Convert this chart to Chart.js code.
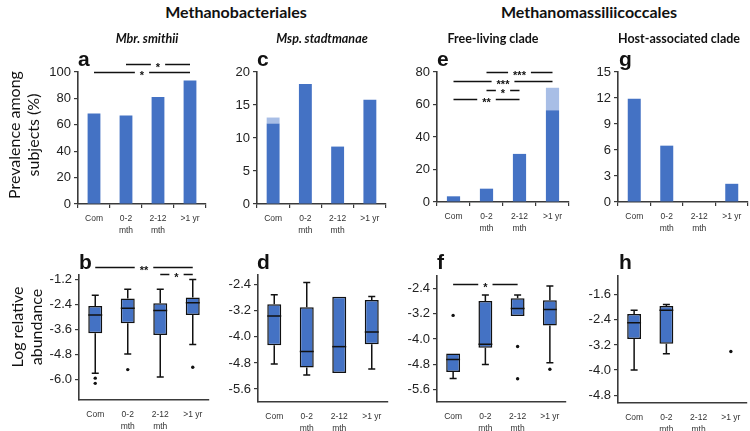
<!DOCTYPE html>
<html>
<head>
<meta charset="utf-8">
<script src="https://cdn.jsdelivr.net/npm/chart.js@4.4.1/dist/chart.umd.min.js"></script>
<style>
  html, body { margin: 0; padding: 0; background: #fff; }
  #fig { position: relative; width: 750px; height: 431px; overflow: hidden; font-family: Lato, "Open Sans", sans-serif; color: #111; }
  #fig canvas { position: absolute; }
  .t { position: absolute; white-space: nowrap; transform: translate(-50%, -50%); z-index: 2; }
  .head { font-weight: bold; font-size: 16px; }
  .sub { font-weight: bold; font-size: 12.5px; }
  .it { font-style: italic; }
  .tag { position: absolute; z-index: 2; font-family: "Liberation Sans", Arial, sans-serif; font-weight: bold; font-size: 21px; line-height: 21px; }
  .ytitle { font-size: 16px; line-height: 19px; text-align: center; transform: translate(-50%, -50%) rotate(-90deg); }
</style>
</head>
<body>
<div id="fig">
  <div class="t head" style="left:236px;top:11px">Methanobacteriales</div>
  <div class="t head" style="left:589px;top:11px">Methanomassiliicoccales</div>
  <div class="t sub it" style="left:147px;top:38px">Mbr. smithii</div>
  <div class="t sub it" style="left:322px;top:38px">Msp. stadtmanae</div>
  <div class="t sub" style="left:493px;top:38px">Free-living clade</div>
  <div class="t sub" style="left:679px;top:38px">Host-associated clade</div>
  <div class="tag" style="left:78px;top:48px">a</div>
  <div class="tag" style="left:257px;top:48px">c</div>
  <div class="tag" style="left:437px;top:48px">e</div>
  <div class="tag" style="left:619px;top:48px">g</div>
  <div class="tag" style="left:79px;top:251px">b</div>
  <div class="tag" style="left:257px;top:251px">d</div>
  <div class="tag" style="left:437px;top:251px">f</div>
  <div class="tag" style="left:619px;top:251px">h</div>
  <div class="t ytitle" style="left:23px;top:135px">Prevalence among<br>subjects (%)</div>
  <div class="t ytitle" style="left:26px;top:327px">Log relative<br>abundance</div>
</div>
<script>
// age groups on every x axis; second line of the tick label below
const groups = ['Com', '0-2', '2-12', '>1 yr'];
const groupSub = ['', 'mth', 'mth', ''];

// prevalence among subjects (%): solid part and lighter top part
const smithiiPrev = [68.5, 67, 81, 93.5];
const stadtmanaePrev = [12.2, 18.2, 8.7, 15.8];
const stadtmanaeExtra = [0.9, 0, 0, 0];
const freePrev = [3.5, 8.2, 29.6, 56.5];
const freeExtra = [0, 0, 0, 13.8];
const hostPrev = [11.9, 6.5, 0, 2.1];

const prevTicksA = [0, 20, 40, 60, 80, 100];
const prevTicksC = [0, 5, 10, 15, 20];
const prevTicksE = [0, 20, 40, 60, 80];
const prevTicksG = [0, 3, 6, 9, 12, 15];

// log relative abundance, one row per group: [min, q1, median, q3, max]
const smithiiBox = [
  [-5.71, -3.80, -2.92, -2.49, -1.97],
  [-4.79, -3.31, -2.60, -2.13, -1.68],
  [-5.89, -3.88, -2.70, -2.36, -1.68],
  [-4.33, -2.92, -2.33, -2.08, -1.22],
];
const smithiiOut = [[-5.95, -6.2], [-5.54], [], [-5.43]];
const stadtmanaeBox = [
  [-4.83, -4.26, -3.36, -3.00, -2.71],
  [-5.17, -4.94, -4.45, -3.09, -2.33],
  [-5.11, -5.11, -4.30, -2.77, -2.77],
  [-4.99, -4.23, -3.85, -2.87, -2.76],
];
const stadtmanaeOut = [[], [], [], []];
const freeBox = [
  [-5.25, -5.05, -4.65, -4.46, -4.46],
  [-4.81, -4.28, -4.17, -2.79, -2.60],
  [-3.27, -3.27, -3.03, -2.71, -2.60],
  [-4.75, -3.57, -3.06, -2.77, -2.32],
];
const freeOut = [[-3.25], [], [-4.24, -5.26], [-4.96]];
const hostBox = [
  [-4.00, -3.01, -2.49, -2.21, -2.09],
  [-3.48, -3.16, -2.09, -1.96, -1.91],
  null,
  null,
];
const hostOut = [[], [], [], [-3.41]];

const logTicksB = [-6.0, -4.8, -3.6, -2.4, -1.2];
const logTicksD = [-5.6, -4.8, -4.0, -3.2, -2.4];
const logTicksF = [-5.6, -4.8, -4.0, -3.2, -2.4];
const logTicksH = [-4.8, -4.0, -3.2, -2.4, -1.6];

// significance brackets: [from group, to group, height in axis units, stars]
const sigA = [[0, 3, 100, '*'], [1, 3, 106, '*']];
const sigB = [[0, 3, -0.62, '**'], [2, 3, -0.95, '*']];
const sigE = [[1, 3, 80, '***'], [0, 3, 74.5, '***'], [1, 2, 69, '*'], [0, 2, 63.5, '**']];
const sigF = [[0, 2, -2.24, '*']];

const BLUE = '#4472c4';
const LIGHT = '#a8bee6';
const AXIS = '#3a3a3a';
const Y_W = 40, X_H = 30, PAD_TOP = 30;

const boxPlot = {
  id: 'boxPlot',
  afterDatasetsDraw(chart, args, opts) {
    const stats = opts.stats;
    if (!stats) return;
    const { ctx } = chart;
    const y = chart.scales.y;
    const bars = chart.getDatasetMeta(0).data;
    ctx.save();
    ctx.strokeStyle = '#111';
    ctx.lineWidth = 1.5;
    stats.forEach((s, i) => {
      if (!s || !bars[i]) return;
      const [lo, q1, med, q3, hi] = s;
      const cx = bars[i].x, half = bars[i].width / 2, cap = 3.5;
      const py = (v) => y.getPixelForValue(v);
      ctx.beginPath();
      if (hi > q3) { ctx.moveTo(cx, py(q3)); ctx.lineTo(cx, py(hi)); ctx.moveTo(cx - cap, py(hi)); ctx.lineTo(cx + cap, py(hi)); }
      if (lo < q1) { ctx.moveTo(cx, py(q1)); ctx.lineTo(cx, py(lo)); ctx.moveTo(cx - cap, py(lo)); ctx.lineTo(cx + cap, py(lo)); }
      ctx.moveTo(cx - half, py(med)); ctx.lineTo(cx + half, py(med));
      ctx.stroke();
    });
    ctx.restore();
  },
};

const brackets = {
  id: 'brackets',
  afterDraw(chart, args, opts) {
    const rows = opts.rows || [];
    const { ctx } = chart;
    const { x, y } = chart.scales;
    ctx.save();
    ctx.strokeStyle = '#111';
    ctx.fillStyle = '#111';
    ctx.lineWidth = 1.3;
    ctx.font = 'bold 11px "Liberation Sans", Arial, sans-serif';
    ctx.textAlign = 'center';
    ctx.textBaseline = 'middle';
    rows.forEach(([from, to, level, stars]) => {
      const x0 = x.getPixelForValue(from), x1 = x.getPixelForValue(to);
      const py = Math.round(y.getPixelForValue(level)) + 0.5;
      const mid = (x0 + x1) / 2, gap = ctx.measureText(stars).width / 2 + 5;
      ctx.beginPath();
      ctx.moveTo(x0, py); ctx.lineTo(mid - gap, py);
      ctx.moveTo(mid + gap, py); ctx.lineTo(x1, py);
      ctx.stroke();
      ctx.fillText(stars, mid, py + 3);
    });
    ctx.restore();
  },
};

function scales(range, ticks, digits, xTicks, stacked) {
  return {
    x: {
      stacked,
      grid: { display: true, drawOnChartArea: false, drawTicks: xTicks, tickLength: 4, color: AXIS, lineWidth: 1.2, offset: true },
      border: { color: AXIS, width: 1.6 },
      ticks: {
        color: '#333', font: { size: 8.5, lineHeight: 1.5 }, padding: xTicks ? 4 : 8, maxRotation: 0, autoSkip: false,
        callback: (v, i) => (groupSub[i] ? [groups[i], groupSub[i]] : groups[i]),
      },
      afterFit: (axis) => { axis.height = X_H; },
    },
    y: {
      stacked,
      min: range[0], max: range[1],
      grid: { drawOnChartArea: false, tickLength: 4, color: AXIS, lineWidth: 1.2 },
      border: { color: AXIS, width: 1.6 },
      ticks: { color: '#222', font: { size: 13 }, padding: 3, callback: (v) => Number(v).toFixed(digits) },
      afterBuildTicks: (axis) => { axis.ticks = ticks.map((value) => ({ value })); },
      afterFit: (axis) => { axis.width = Y_W; },
    },
  };
}

function mount(rect, config) {
  const [left, top, right, bottom] = rect;
  const canvas = document.createElement('canvas');
  const w = right + 2 - (left - Y_W), h = bottom - top + PAD_TOP + X_H;
  canvas.width = w; canvas.height = h;
  canvas.style.left = (left - Y_W) + 'px';
  canvas.style.top = (top - PAD_TOP) + 'px';
  canvas.style.width = w + 'px';
  canvas.style.height = h + 'px';
  document.getElementById('fig').appendChild(canvas);
  config.options.responsive = false;
  config.options.animation = false;
  config.options.devicePixelRatio = 1;
  config.options.layout = { padding: { left: 0, top: PAD_TOP, right: 2, bottom: 0 } };
  config.options.plugins = Object.assign({ legend: { display: false }, tooltip: { enabled: false } }, config.options.plugins);
  return new Chart(canvas, config);
}

function prevalence(rect, values, extra, range, ticks, sig) {
  const datasets = [{ data: values, backgroundColor: BLUE, barPercentage: 0.4, categoryPercentage: 1 }];
  if (extra) datasets.push({ data: extra, backgroundColor: LIGHT, barPercentage: 0.4, categoryPercentage: 1 });
  mount(rect, {
    type: 'bar',
    data: { labels: groups, datasets },
    options: { scales: scales(range, ticks, 0, true, true), plugins: { brackets: { rows: sig || [] } } },
    plugins: [brackets],
  });
}

function abundance(rect, stats, outliers, range, ticks, sig) {
  const datasets = [{
    type: 'bar',
    data: stats.map((s) => (s ? [s[1], s[3]] : null)),
    backgroundColor: BLUE, borderColor: '#111', borderWidth: 1.5, borderSkipped: false,
    barPercentage: 0.43, categoryPercentage: 1,
  }];
  const depth = Math.max(...outliers.map((o) => o.length));
  for (let k = 0; k < depth; k++) {
    datasets.push({
      type: 'line', showLine: false,
      data: outliers.map((o) => (o[k] === undefined ? null : o[k])),
      pointRadius: 1.7, pointBackgroundColor: '#111', pointBorderWidth: 0,
    });
  }
  mount(rect, {
    type: 'bar',
    data: { labels: groups, datasets },
    options: { scales: scales(range, ticks, 1, false, false), plugins: { boxPlot: { stats }, brackets: { rows: sig || [] } } },
    plugins: [boxPlot, brackets],
  });
}

prevalence([78, 72, 206, 204], smithiiPrev, null, [0, 100], prevTicksA, sigA);
prevalence([257, 72, 386, 204], stadtmanaePrev, stadtmanaeExtra, [0, 20], prevTicksC);
prevalence([437, 72, 569, 202], freePrev, freeExtra, [0, 80], prevTicksE, sigE);
prevalence([618, 72, 748, 202], hostPrev, null, [0, 15], prevTicksG);

abundance([79, 275, 211, 400], smithiiBox, smithiiOut, [-7.0, -1.0], logTicksB, sigB);
abundance([258, 275, 388, 402], stadtmanaeBox, stadtmanaeOut, [-6.0, -2.1], logTicksD);
abundance([437, 276, 568, 402], freeBox, freeOut, [-6.0, -2.0], logTicksF, sigF);
abundance([618, 276, 749, 403], hostBox, hostOut, [-5.05, -1.0], logTicksH);
</script>
</body>
</html>
